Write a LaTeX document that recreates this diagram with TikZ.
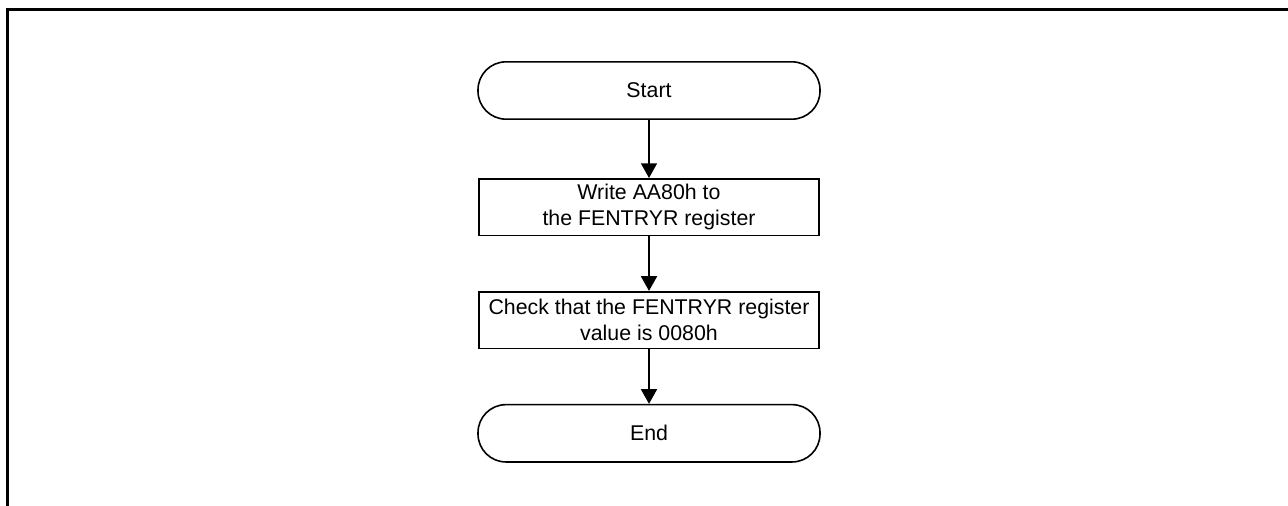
\documentclass[tikz,border=0pt]{standalone}
\usepackage{fontspec}
\setmainfont{Liberation Sans}
\usetikzlibrary{arrows.meta, positioning}

\begin{document}
\begin{tikzpicture}[
    x=0.75pt, y=-0.75pt,
    node distance=43pt,
    font=\fontsize{16}{19}\selectfont,
    terminal/.style={draw, line width=1.2pt, rounded corners=21pt, minimum width=256.5pt, minimum height=43pt, align=center},
    process/.style={draw, line width=1.2pt, minimum width=255pt, minimum height=42.5pt, align=center, inner sep=2pt},
    flow/.style={line width=1.2pt, -{Triangle[width=12pt, length=11pt]}}
  ]

  \useasboundingbox (0,0) rectangle (1288,506);

  % ==================== FRAME ====================
  \draw[line width=2.25pt] (6,9.5) -- (1288,9.5);
  \draw[line width=2.25pt] (7.5,8.4) -- (7.5,506);

  % ==================== FLOW ====================
  \node (Start) [terminal] at (649,90.5) {Start};
  \node (Write) [process, below=43.5pt of Start] {Write AA80h to\\the FENTRYR register};
  \node (Check) [process, below=41pt of Write] {Check that the FENTRYR register\\value is 0080h};
  \node (End) [terminal, below=41pt of Check] {End};

  \draw[flow] (Start) -- (Write);
  \draw[flow] (Write) -- (Check);
  \draw[flow] (Check) -- (End);

\end{tikzpicture}
\end{document}
